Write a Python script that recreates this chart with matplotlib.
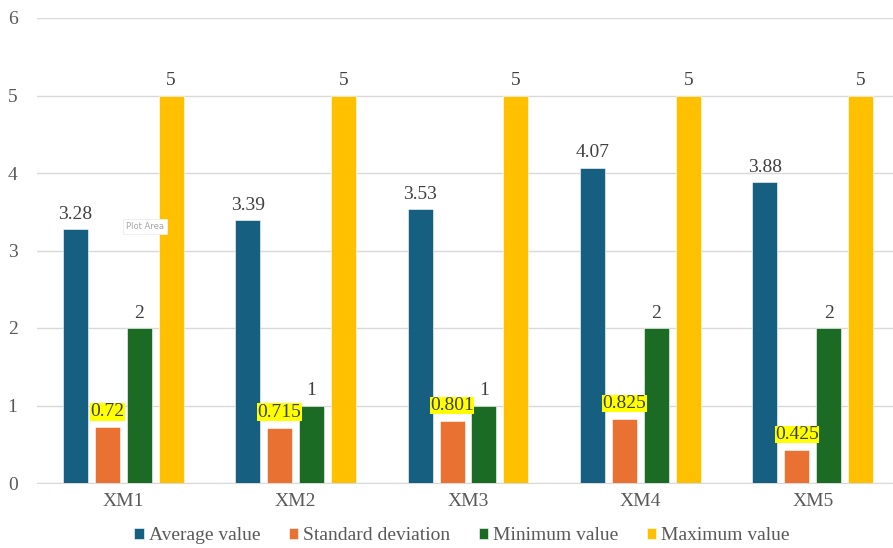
import matplotlib
matplotlib.use("Agg")
import matplotlib.pyplot as plt
import numpy as np

categories = ["XM1", "XM2", "XM3", "XM4", "XM5"]
series_names = ["Average value", "Standard deviation", "Minimum value", "Maximum value"]
avg = [3.28, 3.39, 3.53, 4.07, 3.88]
std = [0.72, 0.715, 0.801, 0.825, 0.425]
mins = [2, 1, 1, 2, 2]
maxs = [5, 5, 5, 5, 5]
avg_labels = ["3.28", "3.39", "3.53", "4.07", "3.88"]
std_labels = ["0.72", "0.715", "0.801", "0.825", "0.425"]
min_labels = ["2", "1", "1", "2", "2"]
max_labels = ["5", "5", "5", "5", "5"]
colors = ["#175F80", "#E97132", "#1B6B24", "#FFC000"]

plt.rcParams['font.family'] = ['Liberation Serif', 'DejaVu Serif']
fig = plt.figure(figsize=(8.93, 5.48), dpi=100)
ax = fig.add_axes([37/893, 65/548, 862/893, 465/548])

x = np.arange(len(categories))
step = 0.1855
width = 0.145
data = [avg, std, mins, maxs]
labels = [avg_labels, std_labels, min_labels, max_labels]
for i, (vals, labs, c, name) in enumerate(zip(data, labels, colors, series_names)):
    pos = x + (i - 1.5) * step
    ax.bar(pos, vals, width, color=c, label=name, edgecolor="white", linewidth=0.4, zorder=3)
    for p, v, t in zip(pos, vals, labs):
        if i == 1:
            ax.text(p, v + 0.09, t, ha="center", va="bottom", fontsize=14, color="#404040",
                    bbox=dict(boxstyle="square,pad=0.02", fc="#FFFF00", ec="none"), zorder=5)
        else:
            ax.text(p, v + 0.08, t, ha="center", va="bottom", fontsize=14, color="#404040", zorder=5)

ax.set_xlim(-0.5, 4.5)
ax.set_ylim(0, 6)
ax.set_yticks(range(0, 7))
ax.yaxis.grid(True, color="#D9D9D9", linewidth=1, zorder=0)
ax.set_axisbelow(True)
for s in ["top", "right", "left"]:
    ax.spines[s].set_visible(False)
ax.spines["bottom"].set_color("#D9D9D9")
ax.tick_params(axis="both", length=0, labelsize=14, colors="#595959", pad=7)
ax.tick_params(axis="y", pad=14)
ax.set_xticks(x)
ax.set_xticklabels(categories)

ax.text(0.125, 3.31, "Plot Area", fontsize=6, color="#A6A6A6", family="DejaVu Sans",
        ha="center", va="center",
        bbox=dict(boxstyle="square,pad=0.35", fc="white", ec="#EDEDED", lw=0.6), zorder=4)

leg = fig.legend(loc="center", bbox_to_anchor=(462/893, 12/548), ncol=4, frameon=False,
                 fontsize=14, handlelength=0.5, handleheight=0.5, handletextpad=0.25,
                 columnspacing=1.45, labelcolor="#595959")
fig.savefig("out.png", dpi=100)
